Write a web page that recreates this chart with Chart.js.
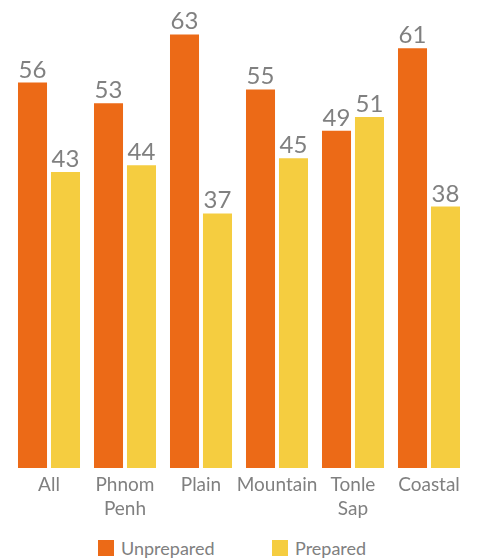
<!DOCTYPE html>
<html>
<head>
<meta charset="utf-8">
<script src="https://cdn.jsdelivr.net/npm/chart.js@4.4.1/dist/chart.umd.min.js"></script>
<style>
  html, body { margin: 0; padding: 0; background: #ffffff; }
  #wrap { position: relative; width: 479px; height: 559px; }
  #chart { position: absolute; left: 0; top: 0; }
  #legend {
    position: absolute; left: 0; top: 537px; width: 479px;
    font-family: 'Lato', sans-serif; font-size: 18px; color: #808080;
  }
  .item { position: absolute; top: 0; display: flex; align-items: center; }
  .box { width: 16px; height: 16px; margin-right: 7px; }
</style>
</head>
<body>
<div id="wrap">
  <canvas id="chart" width="479" height="526"></canvas>
  <div id="legend"></div>
</div>
<script>
// categories and series
const categories = ['All', ['Phnom', 'Penh'], 'Plain', 'Mountain', ['Tonle', 'Sap'], 'Coastal'];
const unprepared = [56, 53, 63, 55, 49, 61];
const prepared = [43, 44, 37, 45, 51, 38];
const seriesNames = ['Unprepared', 'Prepared'];
const seriesColors = ['#ec6a17', '#f5cd40'];

const TEXT = '#808080';
const FONT = "'Lato', sans-serif";

// value labels above each bar
const barLabels = {
  id: 'barLabels',
  afterDatasetsDraw(chart) {
    const ctx = chart.ctx;
    ctx.save();
    ctx.font = '24px ' + FONT;
    ctx.fillStyle = TEXT;
    ctx.textAlign = 'center';
    ctx.textBaseline = 'alphabetic';
    chart.data.datasets.forEach((ds, i) => {
      chart.getDatasetMeta(i).data.forEach((bar, j) => {
        ctx.fillText(ds.data[j], bar.x, bar.y - 5);
      });
    });
    ctx.restore();
  }
};

const chart = new Chart(document.getElementById('chart'), {
  type: 'bar',
  data: {
    labels: categories,
    datasets: [
      { label: seriesNames[0], data: unprepared, backgroundColor: seriesColors[0] },
      { label: seriesNames[1], data: prepared, backgroundColor: seriesColors[1] }
    ]
  },
  options: {
    responsive: false,
    animation: false,
    layout: { padding: { left: 11, right: 12, top: 0, bottom: 0 } },
    datasets: { bar: { categoryPercentage: 0.868, barPercentage: 0.88 } },
    plugins: {
      legend: { display: false },
      tooltip: { enabled: false }
    },
    scales: {
      x: {
        grid: { display: false, drawTicks: false },
        border: { display: false },
        ticks: { color: TEXT, font: { family: FONT, size: 19, lineHeight: 1.26 }, padding: 5, maxRotation: 0, autoSkip: false }
      },
      y: {
        display: false,
        min: 0,
        max: 68
      }
    }
  },
  plugins: [barLabels]
});

// legend built from the same series
const legend = document.getElementById('legend');
const legendX = [98, 272];
seriesNames.forEach((name, i) => {
  const item = document.createElement('div');
  item.className = 'item';
  item.style.left = legendX[i] + 'px';
  item.innerHTML = '<div class="box" style="background:' + seriesColors[i] + '"></div><span>' + name + '</span>';
  legend.appendChild(item);
});
</script>
</body>
</html>
